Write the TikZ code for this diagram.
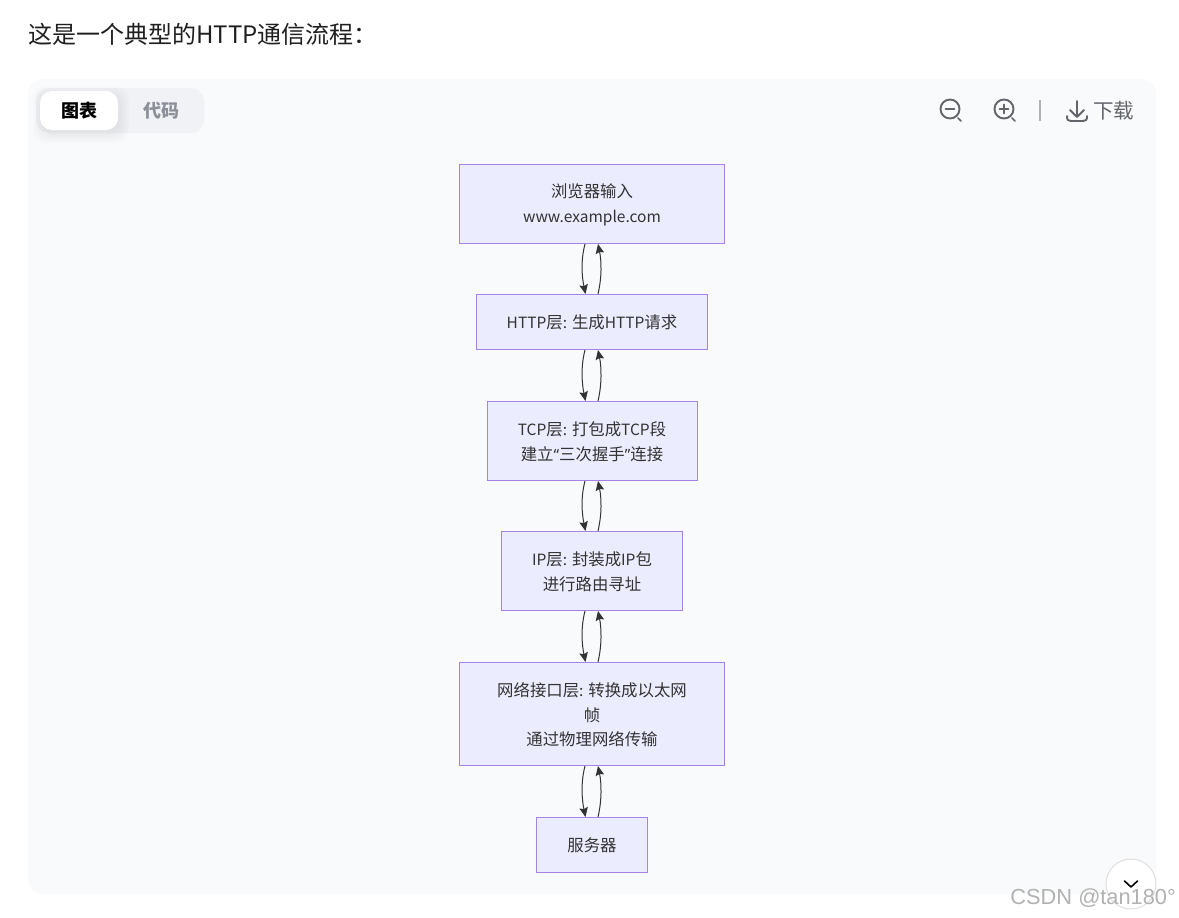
\documentclass[tikz,border=0pt]{standalone}
\usepackage{fontspec}
\setmainfont{Noto Sans CJK SC}
\newfontfamily\wmfont{Liberation Sans}
\newfontfamily\quotefont{Noto Sans}
\usetikzlibrary{arrows.meta}
\definecolor{panelbg}{HTML}{F9FAFB}
\definecolor{tabbg}{HTML}{F1F2F5}
\definecolor{boxfill}{HTML}{ECECFF}
\definecolor{boxline}{HTML}{A583E6}
\definecolor{boxtext}{HTML}{333333}
\definecolor{iconc}{HTML}{62666B}
\definecolor{tabgrey}{HTML}{8A8F98}
\newcommand{\lat}[1]{{\fontsize{15.5}{24.5}\selectfont #1}}
\newcommand{\toprow}{\rule{0pt}{15.8pt}}
\tikzset{
  flowbox/.style={draw=boxline,fill=boxfill,line width=1pt,text=boxtext,font=\fontsize{16.4}{24.5}\selectfont,align=center,inner sep=0pt,anchor=center},
  flowarrow/.style={draw=boxtext,line width=1pt,-{Stealth[length=9.5pt,width=8.5pt,inset=1.5pt]}},
  tabtext/.style={font=\fontsize{18}{22}\selectfont\bfseries,inner sep=0pt},
  iconline/.style={draw=iconc,line width=1.9pt,line cap=round,line join=round},
}
\begin{document}
\begin{tikzpicture}[x=1pt,y=-1pt]
\useasboundingbox (0,0) rectangle (1179,918);
\fill[white] (0,0) rectangle (1179,918);
\node[anchor=west,inner sep=0pt,text=black!88,font=\fontsize{24}{28}\selectfont] (title) at (28,34) {这是一个典型的HTTP通信流程：};
\fill[panelbg,rounded corners=16pt] (28,79) rectangle (1156,894);
\fill[tabbg,rounded corners=13pt] (36,88) rectangle (204,133);
\foreach \g in {9,7,5,3,1}{
  \fill[black,opacity=0.012,rounded corners=13pt] (40-\g+2,91-\g+4) rectangle (118+\g+2,130+\g+4);
}
\fill[white,rounded corners=12pt] (40,91) rectangle (118,130);
\node[tabtext,text=black] (tab1) at (79,111) {图表};
\node[tabtext,text=tabgrey] (tab2) at (161,111) {代码};
% icons
\draw[iconline] (950,109) circle (9.5);
\draw[iconline] (945.5,109) -- (954.5,109);
\draw[iconline,line width=1.5pt] (958,118) -- (961,121);
\draw[iconline] (1004,109) circle (9.5);
\draw[iconline] (999.5,109) -- (1008.5,109);
\draw[iconline] (1004,104.5) -- (1004,113.5);
\draw[iconline,line width=1.5pt] (1012,118) -- (1015,121);
\draw[draw=black!30,line width=1.5pt] (1040,100) -- (1040,121);
\draw[iconline] (1077,101) -- (1077,116);
\draw[iconline] (1070,110) -- (1077,117) -- (1084,110);
\draw[iconline] (1067,116) .. controls (1067,120) and (1068,121) .. (1071,121) -- (1083,121) .. controls (1086,121) and (1087,120) .. (1087,116);
\node[anchor=west,inner sep=0pt,text=iconc,font=\fontsize{20.5}{24}\selectfont] (dl) at (1093,111) {下载};
% flow
\node[flowbox,minimum width=265pt,minimum height=79pt] (a) at (592,204) {\toprow 浏览器输入\\\lat{www.example.com}};
\node[flowbox,minimum width=231pt,minimum height=55pt] (b) at (592,322) {\lat{HTTP}层\lat{:} 生成\lat{HTTP}请求};
\node[flowbox,minimum width=210pt,minimum height=79pt] (c) at (592,441) {\toprow \lat{TCP}层\lat{:} 打包成\lat{TCP}段\\建立{\quotefont\lat{“}}三次握手{\quotefont\lat{”}}连接};
\node[flowbox,minimum width=181pt,minimum height=79pt] (d) at (592,571) {\toprow \lat{IP}层\lat{:} 封装成\lat{IP}包\\进行路由寻址};
\node[flowbox,minimum width=265pt,minimum height=103pt] (e) at (592,714) {\toprow 网络接口层\lat{:} 转换成以太网\\帧\\通过物理网络传输};
\node[flowbox,minimum width=111pt,minimum height=55pt] (f) at (592,845) {服务器};
\foreach \p/\q in {a/b,b/c,c/d,d/e,e/f}{
  \draw[flowarrow] ([xshift=-7pt]\p.south) .. controls ([xshift=-11.5pt,yshift=-17pt]\p.south) and ([xshift=-10pt,yshift=17pt]\q.north) .. ([xshift=-6.5pt]\q.north);
  \draw[flowarrow] ([xshift=6pt]\q.north) .. controls ([xshift=10pt,yshift=17pt]\q.north) and ([xshift=9.5pt,yshift=-17pt]\p.south) .. ([xshift=6pt]\p.south);
}
% scroll button
\node[circle,draw=black!12,fill=white,line width=1pt,minimum size=50pt,inner sep=0pt] (btn) at (1131,884) {};
\draw[draw=black,line width=1.6pt,line cap=round,line join=round] ([xshift=-6.5pt,yshift=3pt]btn.center) -- ([yshift=-3pt]btn.center) -- ([xshift=6.5pt,yshift=3pt]btn.center);
\node[anchor=east,inner sep=0pt,text=black!30,font=\wmfont\fontsize{21.8}{26}\selectfont] (wm) at (1176,898.5) {CSDN @tan180°};
\end{tikzpicture}
\end{document}
